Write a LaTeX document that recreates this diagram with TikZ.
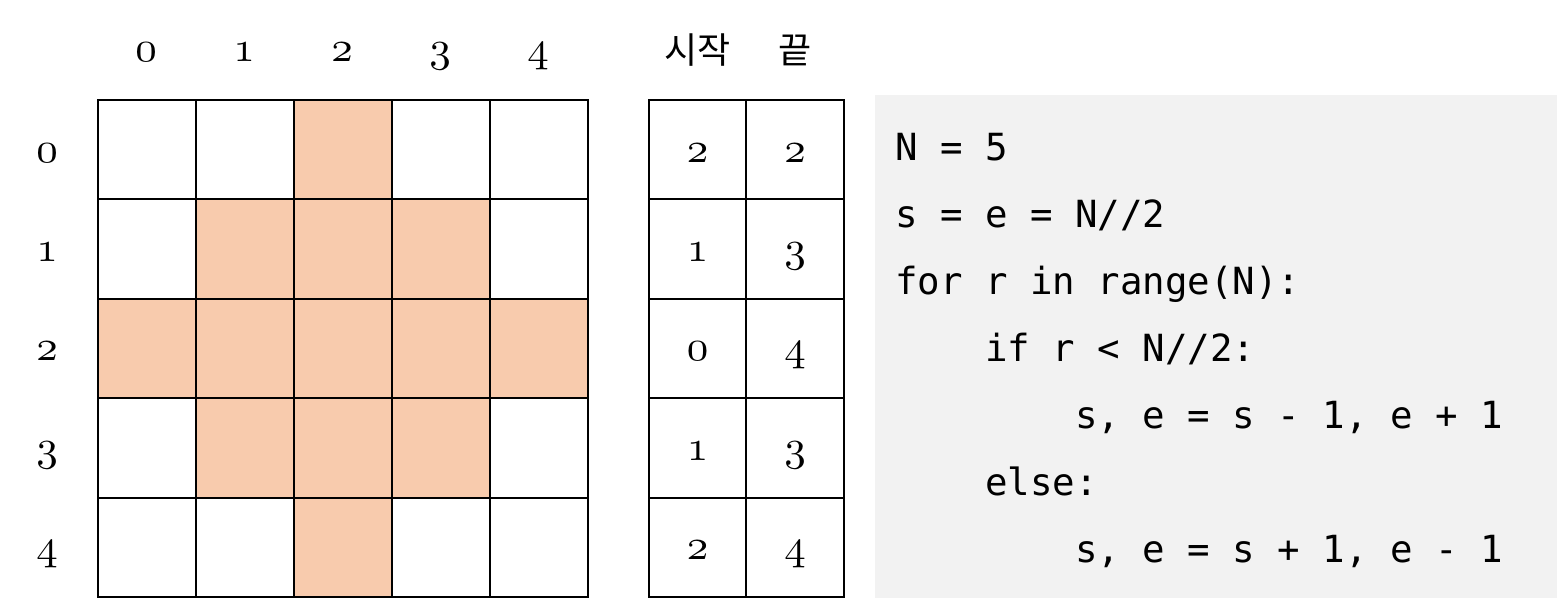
\documentclass[tikz,border=0pt]{standalone}
\usepackage{fontspec}
\newfontfamily\cjk{Noto Sans CJK KR}
\newfontfamily\codefont{DejaVu Sans Mono}
\font\osfont=cmmi10 at 43pt
\newcommand{\osn}[1]{{\osfont #1}}
\definecolor{peach}{HTML}{F8CBAD}
\definecolor{codebg}{HTML}{F2F2F2}
\begin{document}
\begin{tikzpicture}[x=1pt,y=-1pt,
  cell/.style={draw=black,line width=2pt,minimum width=98pt,minimum height=99.4pt,inner sep=0pt,anchor=north west},
  tcell/.style={draw=black,line width=2pt,minimum height=99.4pt,inner sep=0pt,anchor=north west},
  lab/.style={inner sep=0pt,anchor=base},
  hdr/.style={font=\cjk\fontsize{36}{40}\selectfont,inner sep=0pt},
  codeline/.style={anchor=base west,inner sep=0pt,font=\codefont\fontsize{37.4}{40}\selectfont}]
\useasboundingbox (0,0) rectangle (1557,598);
\fill[codebg] (875,95) rectangle (1557,598);
% grid
\foreach \r/\c in {0/2,1/1,1/2,1/3,2/0,2/1,2/2,2/3,2/4,3/1,3/2,3/3,4/2}{
  \fill[peach] ({97+98*\c},{99+99.4*\r}) rectangle ++(98,99.4);
}
\foreach \r in {0,...,4}{
  \foreach \c in {0,...,4}{
    \node[cell] (g-\r-\c) at ({97+98*\c},{99+99.4*\r}) {};
  }
}
% column labels
\foreach \c in {0,...,4}{
  \node[lab] (cl-\c) at ({146+98*\c},61) {\osn{\c}};
}
% row labels
\foreach \r in {0,...,4}{
  \node[lab] (rl-\r) at (47,{162+99.4*\r}) {\osn{\r}};
}
% table
\foreach \r/\s/\e in {0/2/2,1/1/3,2/0/4,3/1/3,4/2/4}{
  \node[tcell,minimum width=97pt] (s-\r) at (648,{99+99.4*\r}) {};
  \node[tcell,minimum width=98pt] (e-\r) at (745,{99+99.4*\r}) {};
  \node[lab] (sv-\r) at (s-\r.center |- 0,{162+99.4*\r}) {\osn{\s}};
  \node[lab] (ev-\r) at (e-\r.center |- 0,{162+99.4*\r}) {\osn{\e}};
}
\node[hdr] (hs) at (s-0.center |- 0,50) {시작};
\node[hdr] (he) at (e-0.center |- 0,50) {끝};
% code
\node[codeline] (l1) at (895,160) {N = 5};
\node[codeline] (l2) at (895,227) {s = e = N//2};
\node[codeline] (l3) at (895,294) {for r in range(N):};
\node[codeline] (l4) at (985,361) {if r < N//2:};
\node[codeline] (l5) at (1075,428) {s, e = s - 1, e + 1};
\node[codeline] (l6) at (985,495) {else:};
\node[codeline] (l7) at (1075,562) {s, e = s + 1, e - 1};
\end{tikzpicture}
\end{document}
